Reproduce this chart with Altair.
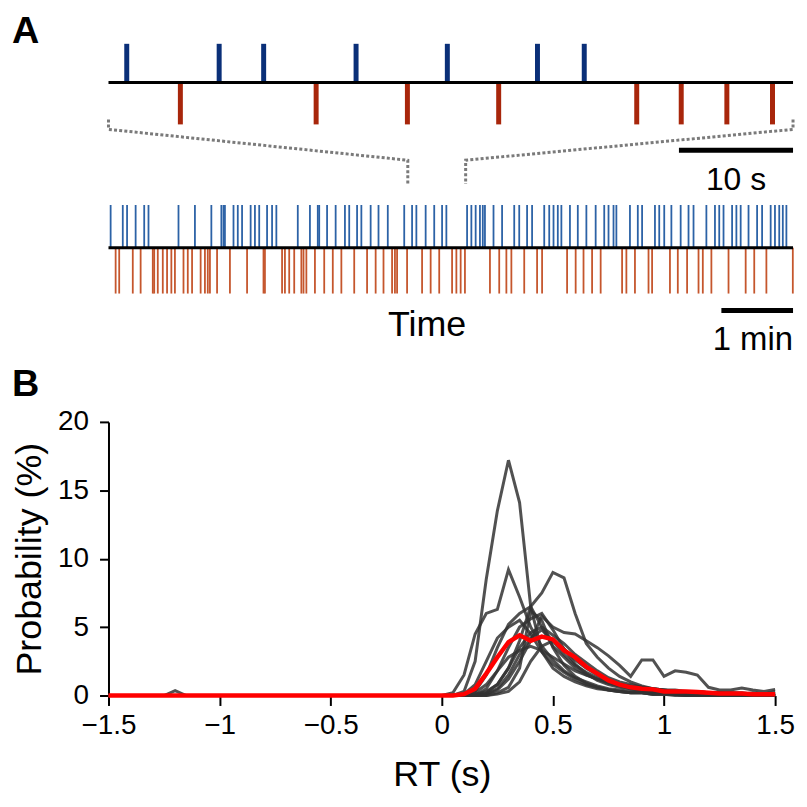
import altair as alt
import pandas as pd

FONT = "Liberation Sans"

# ---------------- Panel A data ----------------
TOP_SPAN_S = 60.0
TOP_BLUE_S = [1.6, 9.7, 13.6, 21.7, 29.7, 37.6, 41.7]
TOP_RED_S = [6.3, 18.2, 26.2, 34.2, 46.3, 50.2, 54.2, 58.2]
SCALE_BAR_S = [50.0, 60.0]
SCALE_LABEL_S = "10 s"

BOTTOM_SPAN_MIN = 9.583
BOTTOM_BLUE_MIN = [0.03, 0.20, 0.26, 0.38, 0.50, 0.56, 0.98, 1.21, 1.44, 1.58, 1.61, 1.63, 1.75,
                   1.81, 1.87, 1.99, 2.05, 2.11, 2.22, 2.29, 2.35, 2.65, 2.82, 2.93, 2.95, 3.06,
                   3.18, 3.31, 3.37, 3.48, 3.54, 3.67, 3.78, 3.91, 4.14, 4.25, 4.31, 4.44, 4.56,
                   4.67, 4.73, 5.02, 5.08, 5.14, 5.20, 5.24, 5.27, 5.39, 5.51, 5.68, 5.75, 5.86,
                   5.93, 6.10, 6.17, 6.23, 6.29, 6.34, 6.46, 6.57, 6.69, 6.82, 6.94, 7.00, 7.07,
                   7.11, 7.30, 7.41, 7.47, 7.65, 7.71, 7.78, 7.88, 8.01, 8.12, 8.19, 8.37, 8.49,
                   8.55, 8.61, 8.73, 8.79, 8.85, 8.96, 9.08, 9.15, 9.27, 9.33, 9.39, 9.44, 9.49]
BOTTOM_RED_MIN = [0.10, 0.15, 0.34, 0.45, 0.62, 0.64, 0.69, 0.76, 0.82, 0.88, 0.93, 1.05, 1.11,
                  1.17, 1.29, 1.35, 1.39, 1.42, 1.52, 1.70, 1.94, 2.17, 2.19, 2.43, 2.47, 2.53,
                  2.60, 2.70, 2.73, 2.77, 2.89, 3.02, 3.14, 3.26, 3.44, 3.62, 3.74, 3.85, 3.97,
                  4.01, 4.04, 4.18, 4.39, 4.51, 4.63, 4.81, 4.87, 4.93, 4.99, 5.34, 5.47, 5.57,
                  5.64, 5.82, 6.00, 6.07, 6.42, 6.54, 6.65, 6.77, 6.89, 7.19, 7.25, 7.37, 7.56,
                  7.61, 7.86, 7.97, 8.10, 8.26, 8.32, 8.44, 8.68, 8.92, 9.04, 9.21, 9.58]
ZOOM_WINDOW_MIN = [4.19, 5.0]
SCALE_BAR_MIN = [8.58, 9.583]
SCALE_LABEL_MIN = "1 min"
TIME_LABEL = "Time"

# ---------------- Panel B data ----------------
RT_BINS = [-1.5, -1.25, -1.2, -1.15,
           0.0, 0.05, 0.1, 0.15, 0.2, 0.25, 0.3, 0.35, 0.4, 0.45, 0.5, 0.55, 0.6, 0.65,
           0.7, 0.75, 0.8, 0.85, 0.9, 0.95, 1.0, 1.05, 1.1, 1.15, 1.2, 1.25, 1.3, 1.35,
           1.4, 1.45, 1.5]
SUBJECTS = {
    "s1": [0, 0, 0, 0, 0, 0, 0.3, 2.5, 8.5, 13.5, 17.2, 14.1, 6.5, 3.2, 2.0, 1.4, 1.0, 0.7,
           0.5, 0.4, 0.3, 0.2, 0.2, 0.1, 0.1, 0, 0, 0, 0, 0, 0, 0, 0, 0, 0],
    "s2": [0, 0, 0, 0, 0, 0.2, 1.5, 4.5, 6.0, 6.3, 9.2, 7.2, 5.0, 3.6, 2.6, 1.8, 1.3, 1.0,
           0.7, 0.5, 0.4, 0.3, 0.3, 0.2, 0.2, 0.1, 0.1, 0.1, 0, 0, 0, 0, 0, 0, 0],
    "s3": [0, 0, 0, 0, 0, 0, 0, 0.1, 0.3, 0.8, 2.0, 4.0, 6.5, 7.5, 9.0, 8.6, 6.0, 3.8,
           2.8, 2.0, 1.4, 1.0, 0.7, 0.5, 0.4, 0.3, 0.3, 0.2, 0.2, 0.1, 0.1, 0.1, 0.1, 0.1, 0.1],
    "s4": [0, 0, 0.35, 0, 0, 0, 0, 0.3, 1.5, 3.5, 5.2, 6.0, 6.5, 5.0, 3.6, 2.8, 2.0, 1.5,
           1.2, 0.9, 0.7, 0.5, 0.4, 0.3, 0.2, 0.2, 0.1, 0.1, 0.1, 0, 0, 0, 0, 0, 0],
    "s5": [0, 0, 0, 0, 0, 0, 0, 0, 0.5, 1.8, 3.5, 5.0, 5.6, 6.0, 4.8, 3.4, 2.3, 1.6,
           1.1, 0.8, 0.6, 0.5, 0.4, 0.3, 0.3, 0.2, 0.2, 0.1, 0.1, 0.1, 0.1, 0, 0, 0, 0],
    "s6": [0, 0, 0, 0, 0, 0, 0.1, 0.8, 2.5, 4.2, 5.0, 5.5, 4.5, 3.2, 2.3, 1.7, 1.2, 0.8,
           0.6, 0.4, 0.3, 0.2, 0.2, 0.1, 0.1, 0.1, 0, 0, 0, 0, 0, 0, 0, 0, 0],
    "s7": [0, 0, 0, 0, 0, 0, 0, 0, 0.2, 0.8, 2.0, 3.5, 4.6, 5.0, 4.4, 3.8, 3.0, 2.4,
           1.8, 1.3, 1.0, 0.8, 0.6, 0.5, 0.4, 0.4, 0.3, 0.3, 0.2, 0.2, 0.2, 0.1, 0.1, 0.1, 0.1],
    "s8": [0, 0, 0, 0, 0, 0, 0, 0, 0.1, 0.4, 1.2, 2.5, 4.0, 5.8, 5.0, 4.6, 4.5, 4.0,
           3.5, 2.9, 2.2, 1.4, 2.6, 2.6, 1.4, 1.8, 1.7, 1.5, 0.6, 0.4, 0.4, 0.55, 0.4, 0.3, 0.45],
    "s9": [0, 0, 0, 0, 0, 0, 0, 0.2, 0.8, 1.8, 2.8, 3.3, 3.6, 3.3, 2.8, 2.3, 1.8, 1.5,
           1.2, 1.0, 0.8, 0.7, 0.6, 0.5, 0.4, 0.3, 0.3, 0.3, 0.2, 0.2, 0.2, 0.2, 0.1, 0.1, 0.1],
    "s10": [0, 0, 0, 0, 0, 0, 0, 0, 0, 0.2, 0.6, 2.0, 6.2, 5.5, 3.5, 2.2, 1.4, 0.9,
            0.6, 0.4, 0.3, 0.2, 0.2, 0.1, 0.1, 0.1, 0, 0, 0, 0, 0, 0, 0, 0, 0],
    "s11": [0, 0, 0, 0, 0, 0, 0, 0, 0.1, 0.5, 1.5, 3.0, 4.2, 4.8, 4.0, 3.0, 2.2, 1.7,
            1.3, 1.0, 0.8, 0.6, 0.5, 0.4, 0.3, 0.3, 0.2, 0.3, 0.2, 0.2, 0.1, 0.1, 0.2, 0.1, 0.1],
    "s12": [0, 0, 0, 0, 0, 0, 0, 0, 0, 0.1, 0.3, 1.0, 2.5, 3.6, 4.0, 3.4, 2.6, 2.0,
            1.5, 1.1, 0.8, 0.6, 0.5, 0.4, 0.3, 0.3, 0.3, 0.2, 0.2, 0.2, 0.1, 0.1, 0.1, 0.1, 0.3],
}
MEAN_CURVE = [0, 0, 0, 0, 0, 0, 0.1, 0.5, 1.6, 2.8, 3.9, 4.4, 4.0, 4.3, 4.1, 3.3, 2.8, 2.1,
              1.6, 1.1, 0.8, 0.6, 0.5, 0.45, 0.3, 0.3, 0.3, 0.25, 0.2, 0.15, 0.15, 0.15, 0.1, 0.1, 0.1]
X_TICKS = [-1.5, -1, -0.5, 0, 0.5, 1, 1.5]
Y_TICKS = [0, 5, 10, 15, 20]

# ---------------- Layout constants (panel A, px-like units from top) ----------------
A_W, A_H = 688, 300
B_W, B_H = 670, 275
LEFT_OFF = -97  # x offset of the panel letters from the plot edge

TOP_BLUE_COL, TOP_RED_COL = "#0a2f78", "#a8260b"
BOT_BLUE_COL, BOT_RED_COL = "#2c62a6", "#c5562d"

ONE = pd.DataFrame({"k": [0]})


def xs_top():
    return alt.Scale(domain=[0, TOP_SPAN_S], nice=False, zero=False)


def xs_bot():
    return alt.Scale(domain=[0, BOTTOM_SPAN_MIN], nice=False, zero=False)


def ys():
    return alt.Scale(domain=[0, A_H], reverse=True, nice=False, zero=False)


def raster(times, scale_fn, y0, y1, color, width):
    return alt.Chart(pd.DataFrame({"t": times})).mark_rule(
        color=color, strokeWidth=width
    ).encode(
        x=alt.X("t:Q", scale=scale_fn(), axis=None),
        y=alt.YDatum(y0, scale=ys(), axis=None),
        y2=alt.Y2Datum(y1),
    )


def hbar(x0, x1, scale_fn, y, color, width):
    return alt.Chart(ONE).mark_rule(color=color, strokeWidth=width).encode(
        x=alt.XDatum(x0, scale=scale_fn(), axis=None),
        x2=alt.X2Datum(x1),
        y=alt.YDatum(y, scale=ys(), axis=None),
    )


def label(text, x, scale_fn, y, size):
    return alt.Chart(ONE).mark_text(
        text=text, font=FONT, fontSize=size, color="black", align="center", baseline="middle"
    ).encode(
        x=alt.XDatum(x, scale=scale_fn(), axis=None),
        y=alt.YDatum(y, scale=ys(), axis=None),
    )


# bracket joining the zoomed window (bottom raster) to the top raster
inner = [m * TOP_SPAN_S / BOTTOM_SPAN_MIN for m in ZOOM_WINDOW_MIN]
bracket_df = pd.DataFrame({
    "x": [0, 0, inner[0], inner[0], TOP_SPAN_S, TOP_SPAN_S, inner[1], inner[1]],
    "y": [88, 98, 129, 153, 88, 98, 129, 153],
    "side": ["l"] * 4 + ["r"] * 4,
    "o": [0, 1, 2, 3, 0, 1, 2, 3],
})
bracket = alt.Chart(bracket_df).mark_line(
    color="#7a7a7a", strokeWidth=3, strokeDash=[3, 2.2]
).encode(
    x=alt.X("x:Q", scale=xs_top(), axis=None),
    y=alt.Y("y:Q", scale=ys(), axis=None),
    detail="side:N",
    order="o:Q",
)

a_label = alt.Chart(ONE).mark_text(
    text="A", font=FONT, fontSize=38, fontWeight="bold", align="left", baseline="top"
).encode(x=alt.value(LEFT_OFF), y=alt.value(-19))

panel_a = alt.layer(
    raster(TOP_BLUE_S, xs_top, 12, 51, TOP_BLUE_COL, 5),
    raster(TOP_RED_S, xs_top, 51, 93, TOP_RED_COL, 5),
    hbar(0, TOP_SPAN_S, xs_top, 51, "black", 3),
    bracket,
    hbar(SCALE_BAR_S[0], SCALE_BAR_S[1], xs_top, 119, "black", 5),
    label(SCALE_LABEL_S, (SCALE_BAR_S[0] + SCALE_BAR_S[1]) / 2, xs_top, 149, 32),
    raster(BOTTOM_BLUE_MIN, xs_bot, 174, 217, BOT_BLUE_COL, 1.8),
    raster(BOTTOM_RED_MIN, xs_bot, 217, 263, BOT_RED_COL, 1.8),
    hbar(0, BOTTOM_SPAN_MIN, xs_bot, 217, "black", 3),
    hbar(SCALE_BAR_MIN[0], SCALE_BAR_MIN[1], xs_bot, 280, "black", 5),
    label(TIME_LABEL, 4.46, xs_bot, 295, 36),
    label(SCALE_LABEL_MIN, 9.02, xs_bot, 310, 33),
    a_label,
).resolve_scale(x="independent").properties(width=A_W, height=A_H)

# ---------------- Panel B ----------------
rows = []
for name, vals in SUBJECTS.items():
    for rt, v in zip(RT_BINS, vals):
        rows.append({"rt": rt, "p": v, "subject": name})
sub_df = pd.DataFrame(rows)
mean_df = pd.DataFrame({"rt": RT_BINS, "p": MEAN_CURVE})

x_b = alt.X(
    "rt:Q",
    scale=alt.Scale(domain=[-1.5, 1.5], nice=False, zero=False),
    axis=alt.Axis(values=X_TICKS, format="~g", title="RT (s)", domain=False,
                  tickSize=10, tickWidth=2, tickColor="black", labelPadding=6,
                  titlePadding=18, labelFlush=False, labelOverlap=False),
)
y_b = alt.Y(
    "p:Q",
    scale=alt.Scale(domain=[0, 20], nice=False),
    axis=alt.Axis(values=Y_TICKS, title="Probability (%)", domain=True, domainColor="black",
                  domainWidth=2, tickSize=9, tickWidth=2, tickColor="black", labelPadding=11,
                  titlePadding=9, labelFlush=False, labelOverlap=False),
)

subj_lines = alt.Chart(sub_df).mark_line(color="#333333", strokeWidth=3, opacity=0.85).encode(
    x=x_b, y=y_b, detail="subject:N"
)
mean_line = alt.Chart(mean_df).mark_line(color="#ff0000", strokeWidth=4.5).encode(
    x="rt:Q", y="p:Q"
)
b_label = alt.Chart(ONE).mark_text(
    text="B", font=FONT, fontSize=38, fontWeight="bold", align="left", baseline="top"
).encode(x=alt.value(LEFT_OFF), y=alt.value(-56))

panel_b = alt.layer(subj_lines, mean_line, b_label).properties(width=B_W, height=B_H)

chart = alt.vconcat(panel_a, panel_b, spacing=8).properties(
    padding={"left": 3, "top": 3, "right": 0, "bottom": 2}
).configure(font=FONT).configure_view(stroke=None).configure_axis(
    labelFont=FONT, titleFont=FONT, labelFontSize=28, titleFontSize=36,
    labelColor="black", titleColor="black", titleFontWeight="normal", grid=False
)

chart.save("out.html", embed_options={"renderer": "svg", "actions": False})
